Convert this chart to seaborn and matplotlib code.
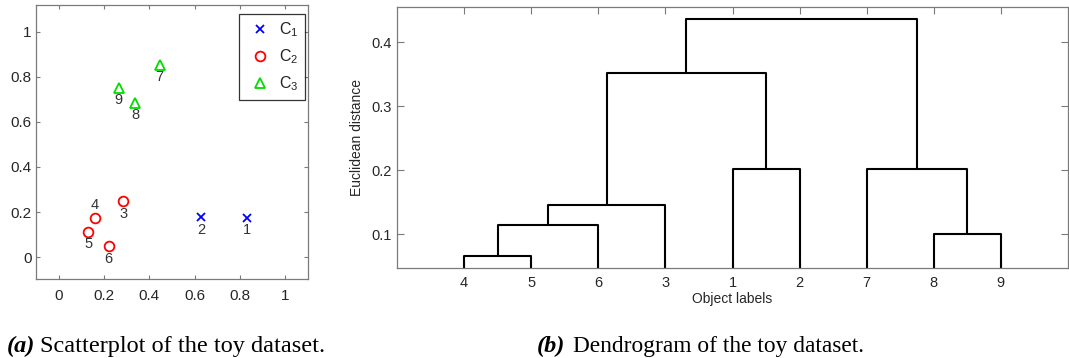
import matplotlib
matplotlib.use("Agg")
import matplotlib.pyplot as plt
import seaborn as sns
import pandas as pd
from matplotlib.lines import Line2D

# ---------------- data ----------------
# scatter (toy dataset)
obj_labels = ["1", "2", "3", "4", "5", "6", "7", "8", "9"]
x_vals = [0.83, 0.63, 0.285, 0.16, 0.13, 0.221, 0.446, 0.338, 0.264]
y_vals = [0.174, 0.177, 0.248, 0.174, 0.113, 0.048, 0.854, 0.685, 0.751]
clusters = ["C1", "C1", "C2", "C2", "C2", "C2", "C3", "C3", "C3"]
cluster_names = ["C1", "C2", "C3"]
cluster_legend = ["C$_1$", "C$_2$", "C$_3$"]
cluster_colors = ["#0000ff", "#ff0000", "#00dd00"]
cluster_markers = ["x", "o", "^"]
label_above = ["4"]

# dendrogram (scipy-like linkage; new clusters numbered 10, 11, ...)
leaf_order = [4, 5, 6, 3, 1, 2, 7, 8, 9]
link_a = [4, 10, 11, 1, 8, 7, 12, 16]
link_b = [5, 6, 3, 2, 9, 14, 13, 15]
link_h = [0.066, 0.115, 0.146, 0.201, 0.100, 0.202, 0.352, 0.436]

# ---------------- style ----------------
sns.set_style("white")
plt.rcParams["font.family"] = ["Liberation Sans", "DejaVu Sans"]
plt.rcParams["mathtext.default"] = "regular"

SPINE = "#7a7a7a"
TXT = "#262626"

fig = plt.figure(figsize=(10.69, 3.58), dpi=100)
W, H = 1069, 358

def axrect(x0, x1, ytop, ybot):
    return [x0 / W, 1 - ybot / H, (x1 - x0) / W, (ybot - ytop) / H]

ax1 = fig.add_axes(axrect(36, 308, 5, 279))
ax2 = fig.add_axes(axrect(397, 1068, 7, 268))

# ---------------- scatter ----------------
df = pd.DataFrame({"x": x_vals, "y": y_vals, "cluster": clusters, "label": obj_labels})
handles = []
for name, leg, col, mk in zip(cluster_names, cluster_legend, cluster_colors, cluster_markers):
    sub = df[df["cluster"] == name]
    ms = 7 if mk != "x" else 6
    sns.lineplot(data=sub, x="x", y="y", estimator=None, sort=False, ax=ax1,
                 linestyle="", marker=mk, markersize=ms,
                 mfc="none", mec=col, mew=1.3, color=col)
    handles.append(Line2D([], [], linestyle="", marker=mk, markersize=ms,
                          mfc="none", mec=col, mew=1.3, label=leg))

for _, r in df.iterrows():
    dy = 9 if r["label"] in label_above else -9
    ax1.annotate(r["label"], (r["x"], r["y"]), xytext=(0, dy), textcoords="offset points",
                 ha="center", va="center", fontsize=10.5, color="#333333")

ax1.set_xlim(-0.1, 1.1)
ax1.set_ylim(-0.097, 1.118)
ax1.set_xticks([0, 0.2, 0.4, 0.6, 0.8, 1])
ax1.set_xticklabels(["0", "0.2", "0.4", "0.6", "0.8", "1"])
ax1.set_yticks([0, 0.2, 0.4, 0.6, 0.8, 1])
ax1.set_yticklabels(["0", "0.2", "0.4", "0.6", "0.8", "1"])
ax1.set_xlabel("")
ax1.set_ylabel("")
ax1.tick_params(direction="in", length=3, width=0.8, colors=SPINE, labelcolor=TXT,
                labelsize=11, top=True, right=True, bottom=True, left=True)
ax1.tick_params(axis="x", pad=7)
ax1.tick_params(axis="y", pad=3)
for s in ax1.spines.values():
    s.set_color(SPINE)
    s.set_linewidth(0.9)

leg = ax1.legend(handles=handles, loc="upper right", bbox_to_anchor=(0.989, 0.967),
                 frameon=True, fancybox=False, edgecolor="black", fontsize=11.5,
                 handlelength=1.8, handletextpad=0.3, labelspacing=0.52,
                 borderpad=0.42, borderaxespad=0)
leg.get_frame().set_linewidth(0.9)
for t in leg.get_texts():
    t.set_color("#222222")

# ---------------- dendrogram ----------------
pos = {leaf: i + 1 for i, leaf in enumerate(leaf_order)}
hgt = {leaf: 0.0 for leaf in leaf_order}
new_id = 10
for a, b, h in zip(link_a, link_b, link_h):
    xa, xb = pos[a], pos[b]
    seg = pd.DataFrame({"x": [xa, xa, xb, xb], "y": [hgt[a], h, h, hgt[b]]})
    sns.lineplot(data=seg, x="x", y="y", estimator=None, sort=False, ax=ax2,
                 color="black", linewidth=1.5)
    pos[new_id] = (xa + xb) / 2
    hgt[new_id] = h
    new_id += 1

ax2.set_xlim(0, 10)
ax2.set_ylim(0.047, 0.455)
ax2.set_xticks(range(1, len(leaf_order) + 1))
ax2.set_xticklabels([str(v) for v in leaf_order])
ax2.set_yticks([0.1, 0.2, 0.3, 0.4])
ax2.set_yticklabels(["0.1", "0.2", "0.3", "0.4"])
ax2.tick_params(direction="in", length=5, width=0.8, colors=SPINE, labelcolor=TXT,
                labelsize=10.5, top=True, right=True, bottom=True, left=True)
ax2.tick_params(axis="x", pad=6)
ax2.tick_params(axis="y", pad=4)
ax2.set_xlabel("Object labels", fontsize=10, color=TXT, labelpad=1)
ax2.set_ylabel("Euclidean distance", fontsize=10, color=TXT, labelpad=5)
for s in ax2.spines.values():
    s.set_color(SPINE)
    s.set_linewidth(0.9)

# ---------------- captions ----------------
cap = dict(family=["Liberation Serif", "DejaVu Serif"], size=17.5, va="baseline", color="black")
yb = 1 - 352 / H
fig.text(7 / W, yb, "(a)", weight="bold", style="italic", **cap)
fig.text(40 / W, yb, "Scatterplot of the toy dataset.", **cap)
fig.text(537 / W, yb, "(b)", weight="bold", style="italic", **cap)
fig.text(573 / W, yb, "Dendrogram of the toy dataset.", size=16.8,
         family=["Liberation Serif", "DejaVu Serif"], va="baseline", color="black")

fig.savefig("out.png", dpi=100)
